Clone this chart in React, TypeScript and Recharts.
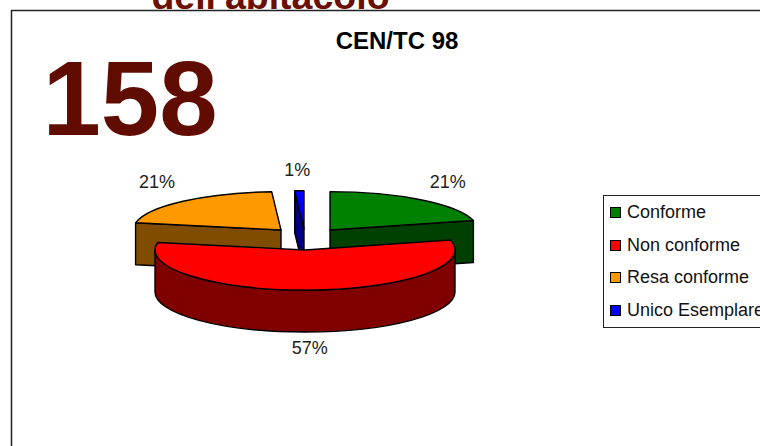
import { PieChart, Pie, Legend } from "recharts";

const categories = ["Conforme", "Non conforme", "Resa conforme", "Unico Esemplare"];
const shares = [21, 57, 21, 1];

const topColors = ["#008000", "#ff0000", "#ff9900", "#0000ff"];
const sideColors = ["#004000", "#800000", "#804d00", "#000080"];

// exploded slices: offset from the pie centre, radius factor, flattening, label offset from the rim
const explode = [
  { dx: 25, dy: 1, k: 0.987, f: 0.259, lx: 27, ly: -18 },
  { dx: 0, dy: 21, k: 1, f: 0.267, lx: 0, ly: 58 },
  { dx: -24, dy: 1, k: 0.987, f: 0.259, lx: -26, ly: -19 },
  { dx: -1, dy: 0, k: 0.987, f: 0.259, lx: -2, ly: -21 },
];

const DEPTH = 42;
const FONT = "Liberation Sans, Arial, sans-serif";

const table = categories.map((name, i) => ({ name, value: shares[i], fill: topColors[i] }));

const rad = (deg: number) => (deg * Math.PI) / 180;

function Slice3D(props: any) {
  const { cx, cy, outerRadius, startAngle, endAngle, name, only } = props;
  const i = categories.indexOf(name);
  if (only ? i !== 1 : i === 1) return null;
  const { dx, dy, k, f } = explode[i];
  const a = outerRadius * k;
  const b = a * f;
  const x0 = cx + dx;
  const y0 = cy + dy;
  const pt = (deg: number) => [x0 + a * Math.cos(rad(deg)), y0 - b * Math.sin(rad(deg))];
  const [sx, sy] = pt(startAngle);
  const [ex, ey] = pt(endAngle);
  const large = startAngle - endAngle > 180 ? 1 : 0;
  const line = { stroke: "#000", strokeWidth: 1.4, strokeLinejoin: "round" as const };

  // outer wall, only the front half of the ellipse shows
  const wallFrom = Math.min(startAngle, 0);
  const wallTo = Math.max(endAngle, -180);
  let wall = null;
  if (wallFrom > wallTo) {
    const [ax, ay] = pt(wallFrom);
    const [bx, by] = pt(wallTo);
    wall = (
      <path
        d={`M${ax},${ay} A${a},${b} 0 0 1 ${bx},${by} L${bx},${by + DEPTH} A${a},${b} 0 0 0 ${ax},${ay + DEPTH} Z`}
        fill={sideColors[i]}
        {...line}
      />
    );
  }
  const face = (px: number, py: number) => (
    <path
      d={`M${x0},${y0} L${px},${py} L${px},${py + DEPTH} L${x0},${y0 + DEPTH} Z`}
      fill={sideColors[i]}
      {...line}
    />
  );
  return (
    <g>
      {Math.cos(rad(startAngle)) < -0.001 && face(sx, sy)}
      {Math.cos(rad(endAngle)) > 0.001 && face(ex, ey)}
      {wall}
      <path
        d={`M${x0},${y0} L${sx},${sy} A${a},${b} 0 ${large} 1 ${ex},${ey} Z`}
        fill={topColors[i]}
        {...line}
      />
    </g>
  );
}

function SliceLabel(props: any) {
  const { cx, cy, outerRadius, midAngle, name, percent, only } = props;
  const i = categories.indexOf(name);
  if (only ? i !== 1 : i === 1) return null;
  const { dx, dy, k, f, lx, ly } = explode[i];
  const a = outerRadius * k;
  const x = cx + dx + a * Math.cos(rad(midAngle)) + lx;
  const y = cy + dy - a * f * Math.sin(rad(midAngle)) + ly;
  return (
    <text x={x} y={y} textAnchor="middle" dominantBaseline="central" fontFamily={FONT} fontSize={18} fill="#222">
      {Math.round(percent * 100)}%
    </text>
  );
}

function LegendBox({ payload }: any) {
  // both pies report their slices, keep each name once and in category order
  const items = categories.map((c) => (payload || []).find((p: any) => p.value === c)).filter(Boolean);
  return (
    <div
      style={{
        width: 170,
        height: 133,
        boxSizing: "border-box",
        border: "1px solid #222",
        background: "#fff",
        fontFamily: FONT,
        fontSize: 18,
        color: "#111",
      }}
    >
      {items.map((p: any) => (
        <div key={p.value} style={{ height: 32.7, display: "flex", alignItems: "center", paddingLeft: 6, whiteSpace: "nowrap" }}>
          <span
            style={{
              width: 11,
              height: 11,
              boxSizing: "border-box",
              border: "1px solid #000",
              background: p.color,
              marginRight: 6,
              flex: "none",
            }}
          />
          {p.value}
        </div>
      ))}
    </div>
  );
}

export default function App() {
  return (
    <div style={{ position: "absolute", left: 0, top: 0, width: 760, height: 446, overflow: "hidden", background: "#fff" }}>
      <PieChart width={760} height={446} margin={{ top: 0, right: 0, bottom: 0, left: 0 }}>
        <text x={270.5} y={9} textAnchor="middle" fontFamily={FONT} fontWeight="bold" fontSize={37.5} fill="#6b1000">
          dell'abitacolo
        </text>
        <rect x={-100} y={10} width={960} height={10} fill="#fff" />
        <rect x={11.5} y={10.5} width={900} height={600} fill="#fff" stroke="#222" strokeWidth={1.5} />
        <text x={397} y={49} textAnchor="middle" fontFamily={FONT} fontWeight="bold" fontSize={24} fill="#000">
          CEN/TC 98
        </text>
        <text x={130} y={135} textAnchor="middle" fontFamily={FONT} fontWeight="bold" fontSize={105} fill="#600c00">
          158
        </text>
        <Pie
          data={table}
          dataKey="value"
          nameKey="name"
          cx={305}
          cy={229}
          outerRadius={150}
          startAngle={90}
          endAngle={-270}
          isAnimationActive={false}
          shape={(p: any) => <Slice3D {...p} />}
          label={(p: any) => <SliceLabel {...p} />}
          labelLine={false}
        />
        <Pie
          data={table}
          dataKey="value"
          nameKey="name"
          cx={305}
          cy={229}
          outerRadius={150}
          startAngle={90}
          endAngle={-270}
          isAnimationActive={false}
          legendType="none"
          shape={(p: any) => <Slice3D {...p} only />}
          label={(p: any) => <SliceLabel {...p} only />}
          labelLine={false}
        />
        <Legend
          layout="vertical"
          content={<LegendBox />}
          wrapperStyle={{ left: 603, top: 195, width: 170, bottom: "auto", right: "auto" }}
        />
      </PieChart>
    </div>
  );
}
